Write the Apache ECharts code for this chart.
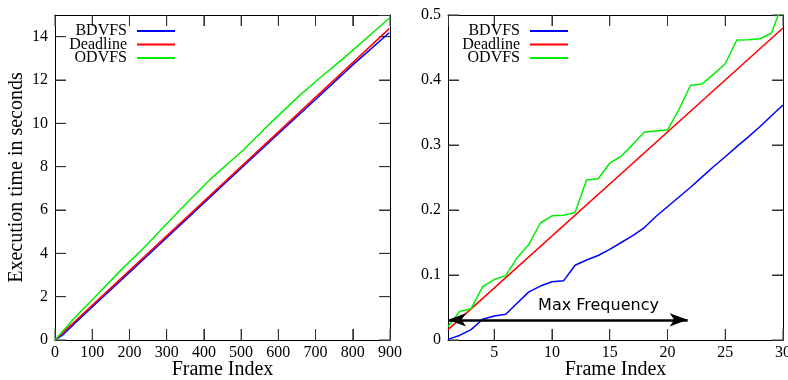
<!DOCTYPE html>
<html>
<head>
<meta charset="utf-8">
<script src="https://cdn.jsdelivr.net/npm/echarts@6/dist/echarts.min.js"></script>
<style>html,body{margin:0;padding:0;background:#fff;}#c{width:788px;height:380px;}</style>
</head>
<body>
<div id="c"></div>
<script>
// ---- data ----
const seriesNames = ['BDVFS', 'Deadline', 'ODVFS'];
const seriesColors = ['#0000ff', '#ff0000', '#00ee00'];

// left panel: whole run (frame index 0..900)
const leftBlueFrames = [0, 20, 50, 100, 200, 300, 400, 500, 600, 700, 800, 898];
const leftBlueTimes  = [0, 0.22, 0.72, 1.52, 3.12, 4.72, 6.33, 7.93, 9.52, 11.1, 12.7, 14.18];
const leftDeadlineFrames = [1, 898];
const leftDeadlineTimes  = [0.016, 14.37];
const leftGreenFrames = [0, 54, 108, 179, 233, 331, 416, 506, 578, 658, 721, 775, 898];
const leftGreenTimes  = [0, 1.05, 2.0, 3.26, 4.15, 5.92, 7.4, 8.77, 10.0, 11.3, 12.23, 13.0, 14.85];

// right panel: first 30 frames
const rightFrames = [1,2,3,4,5,6,7,8,9,10,11,12,13,14,15,16,17,18,19,20,21,22,23,24,25,26,27,28,29,30];
const rightBlue  = [0.001,0.007,0.016,0.032,0.037,0.0395,0.057,0.074,0.083,0.0897,0.091,0.115,0.123,0.130,0.1395,0.150,0.1605,0.173,0.19,0.205,0.22,0.235,0.251,0.267,0.282,0.2975,0.3125,0.328,0.345,0.3615];
const rightGreen = [0.0205,0.044,0.048,0.082,0.093,0.099,0.127,0.147,0.180,0.191,0.192,0.196,0.246,0.248,0.272,0.283,0.301,0.320,0.3215,0.323,0.355,0.392,0.394,0.409,0.425,0.4615,0.462,0.4635,0.472,0.52];
const rightDeadlineFrames = [1, 30];
const rightDeadlineTimes  = [0.016, 0.48];

// annotation
const arrowStart = [1, 0.031];
const arrowEnd = [21.75, 0.031];
const arrowText = 'Max Frequency';

// axis ranges and tick values
const leftXRange = [0, 900], leftXStep = 100;
const leftYRange = [0, 15], leftYStep = 2;
const rightXRange = [1, 30], rightXSplits = 6;
const rightYRange = [0, 0.5], rightYStep = 0.1;
const leftXTicks = [0,100,200,300,400,500,600,700,800,900];
const leftYTicks = [0,2,4,6,8,10,12,14];
const rightXTicks = [5,10,15,20,25,30];
const rightYTicks = [0,0.1,0.2,0.3,0.4,0.5];

// ---- chart ----
const zip = (a, b) => a.map((v, i) => [v, b[i]]);
const SERIF = 'Liberation Serif';
const TICK_LEN = 11;

function baseAxis(grid, pos, range, showLabel, name, isX) {
  return {
    type: 'value', gridIndex: grid, position: pos, min: range[0], max: range[1],
    axisLine: { show: true, onZero: false, lineStyle: { color: '#000', width: 1 } },
    axisTick: { show: true, inside: true, length: TICK_LEN, lineStyle: { color: '#333', width: 1 } },
    axisLabel: { show: showLabel, margin: isX ? 5 : 7, color: '#000', fontFamily: SERIF, fontSize: 16,
      formatter: v => (v === 0 ? '0' : String(+(+v).toFixed(2))) },
    splitLine: { show: false },
    name: name || '', nameLocation: 'middle', nameGap: isX ? 20 : 28, nameMoveOverlap: false,
    nameTextStyle: { fontFamily: SERIF, fontSize: 20, color: '#000' }
  };
}
function leftX(pos, showLabel, name) {
  return Object.assign(baseAxis(0, pos, leftXRange, showLabel, name, true), { interval: leftXStep });
}
function rightX(pos, showLabel, name) {
  const a = Object.assign(baseAxis(1, pos, rightXRange, showLabel, name, true), { splitNumber: rightXSplits });
  a.axisLabel.showMinLabel = false;
  return a;
}
function leftY(pos, showLabel, name) {
  const a = Object.assign(baseAxis(0, pos, leftYRange, showLabel, name, false), { interval: leftYStep });
  a.axisLabel.showMaxLabel = false;
  return a;
}
function rightY(pos, showLabel) {
  return Object.assign(baseAxis(1, pos, rightYRange, showLabel, '', false), { interval: rightYStep });
}

function mkSeries(name, idx, xi, yi, data, extra) {
  return Object.assign({
    name: name, type: 'line', xAxisIndex: xi, yAxisIndex: yi, data: data,
    showSymbol: false, symbol: 'none', animation: false, silent: true,
    lineStyle: { color: seriesColors[idx], width: 1.5 },
    itemStyle: { color: seriesColors[idx] }
  }, extra || {});
}

const legendTops = [23, 36.5, 50];
function mkLegend(name, row, rightPx) {
  return {
    data: [name], orient: 'vertical', align: 'right', right: rightPx, top: legendTops[row],
    padding: 0, icon: 'rect', itemWidth: 38, itemHeight: 2, selectedMode: false,
    textStyle: { fontFamily: SERIF, fontSize: 16, color: '#000', lineHeight: 16, padding: [0, 5, 0, 0] }
  };
}

const textGraphic = {
  id: 'maxfreq', type: 'text', x: 598.5, y: 306, silent: true,
  style: { text: arrowText, fontFamily: 'DejaVu Sans', fontSize: 16, fill: '#000', align: 'center', verticalAlign: 'middle' }
};

const option = {
  animation: false,
  backgroundColor: '#fff',
  grid: [
    { left: 55, top: 15, width: 335, height: 325, containLabel: false, outerBoundsMode: 'none' },
    { left: 448, top: 15, width: 335, height: 325, containLabel: false, outerBoundsMode: 'none' }
  ],
  xAxis: [
    leftX('bottom', true, 'Frame Index'),
    leftX('top', false),
    rightX('bottom', true, 'Frame Index'),
    rightX('top', false)
  ],
  yAxis: [
    leftY('left', true, 'Execution time in seconds'),
    leftY('right', false),
    rightY('left', true),
    rightY('right', false)
  ],
  legend: [
    mkLegend('BDVFS', 0, 613), mkLegend('Deadline', 1, 613), mkLegend('ODVFS', 2, 613),
    mkLegend('BDVFS', 0, 220), mkLegend('Deadline', 1, 220), mkLegend('ODVFS', 2, 220)
  ],
  series: [
    mkSeries('BDVFS', 0, 0, 0, zip(leftBlueFrames, leftBlueTimes)),
    mkSeries('Deadline', 1, 0, 0, zip(leftDeadlineFrames, leftDeadlineTimes)),
    mkSeries('ODVFS', 2, 0, 0, zip(leftGreenFrames, leftGreenTimes)),
    mkSeries('BDVFS', 0, 2, 2, zip(rightFrames, rightBlue)),
    mkSeries('Deadline', 1, 2, 2, zip(rightDeadlineFrames, rightDeadlineTimes), {
      markLine: {
        silent: true, animation: false,
        symbol: ['arrow', 'arrow'], symbolSize: [10, 18],
        lineStyle: { color: '#000', width: 2.5, type: 'solid' },
        label: { show: false },
        data: [[{ coord: arrowStart }, { coord: arrowEnd }]]
      }
    }),
    mkSeries('ODVFS', 2, 2, 2, zip(rightFrames, rightGreen))
  ],
  graphic: [textGraphic]
};

const chart = echarts.init(document.getElementById('c'), null, { renderer: 'canvas' });
chart.setOption(option);

// mirrored inside tick marks on all four sides, placed through the axes' own scales
function tickMarks(gridIndex, xRange, yRange, xTicks, yTicks) {
  const els = [];
  const finder = { gridIndex: gridIndex };
  const p0 = chart.convertToPixel(finder, [xRange[0], yRange[0]]);
  const p1 = chart.convertToPixel(finder, [xRange[1], yRange[1]]);
  const left = p0[0], bottom = p0[1], right = p1[0], top = p1[1];
  const st = { stroke: '#333', lineWidth: 1 };
  xTicks.forEach(v => {
    const x = chart.convertToPixel(finder, [v, yRange[0]])[0];
    els.push({ type: 'line', silent: true, shape: { x1: x, y1: bottom, x2: x, y2: bottom - TICK_LEN }, style: st });
    els.push({ type: 'line', silent: true, shape: { x1: x, y1: top, x2: x, y2: top + TICK_LEN }, style: st });
  });
  yTicks.forEach(v => {
    const y = chart.convertToPixel(finder, [xRange[0], v])[1];
    els.push({ type: 'line', silent: true, shape: { x1: left, y1: y, x2: left + TICK_LEN, y2: y }, style: st });
    els.push({ type: 'line', silent: true, shape: { x1: right, y1: y, x2: right - TICK_LEN, y2: y }, style: st });
  });
  return els;
}
const tickEls = tickMarks(0, leftXRange, leftYRange, leftXTicks, leftYTicks)
  .concat(tickMarks(1, rightXRange, rightYRange, rightXTicks, rightYTicks));
chart.setOption({ graphic: [textGraphic].concat(tickEls) });
</script>
</body>
</html>
